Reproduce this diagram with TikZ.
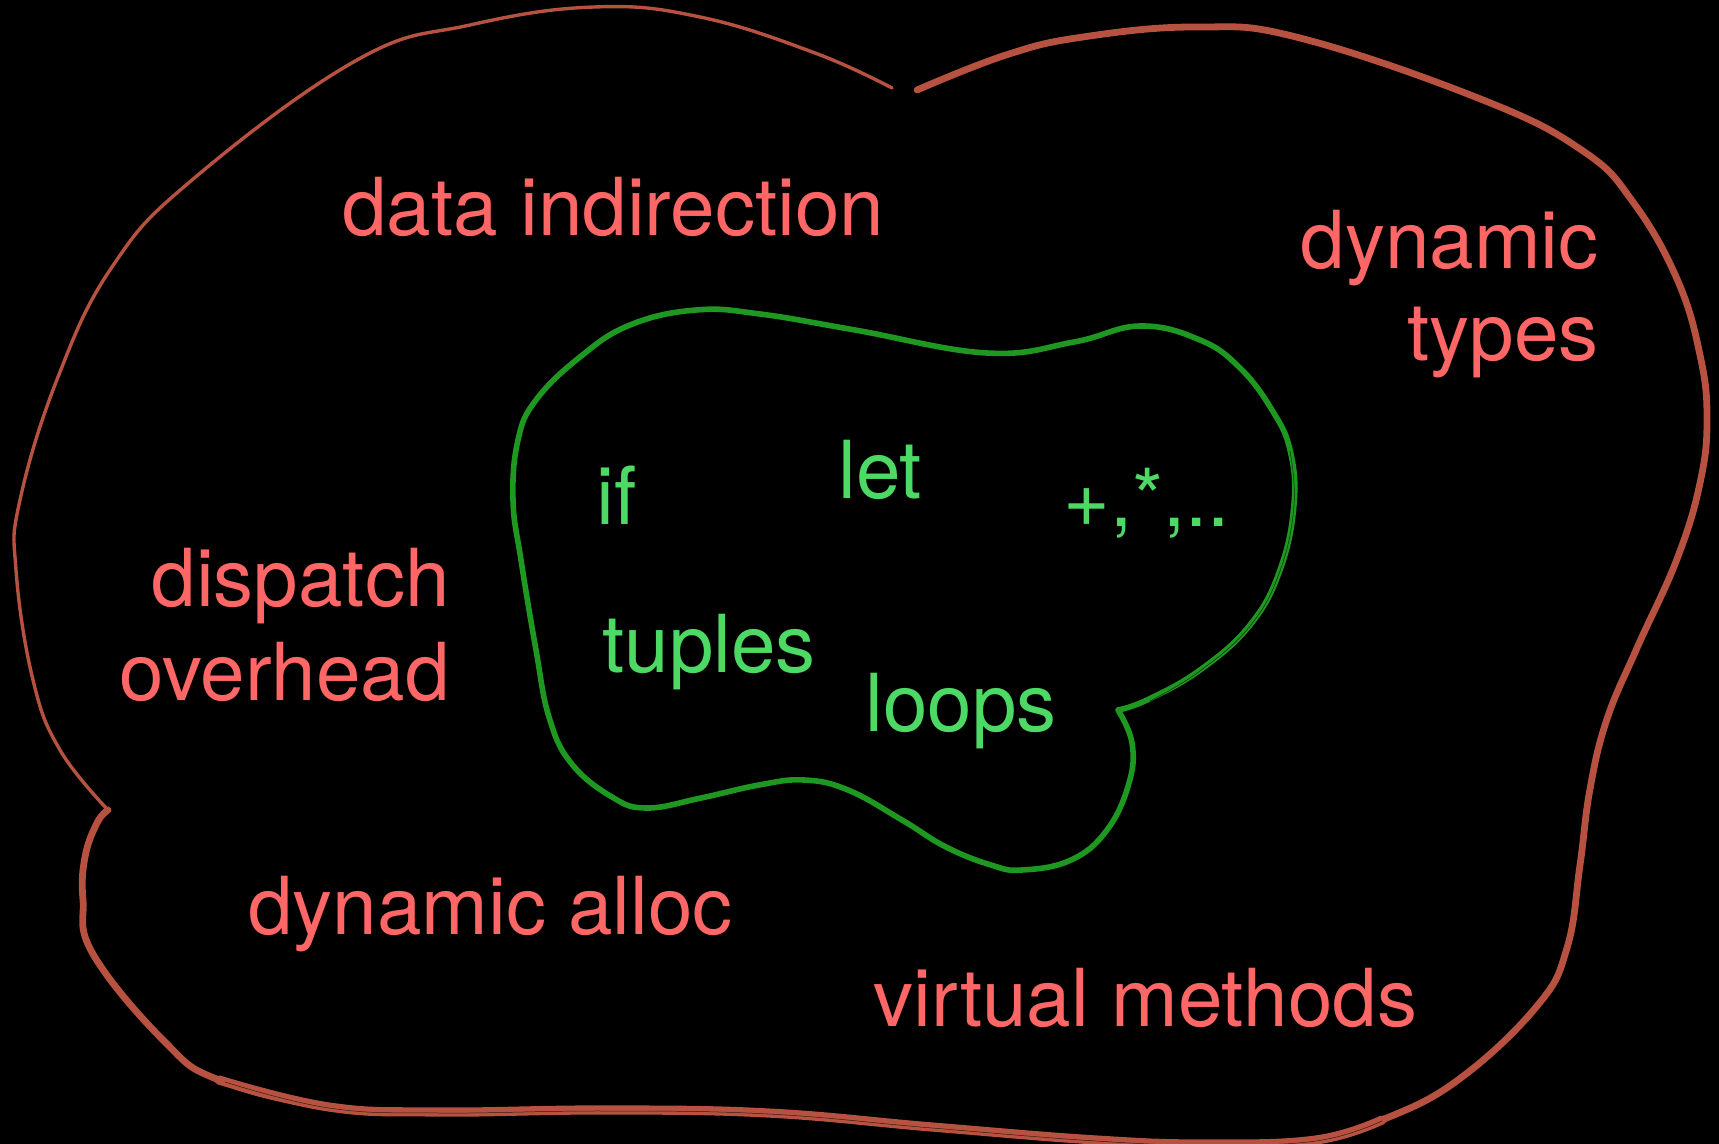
\documentclass[tikz,border=0pt]{standalone}
\usepackage{fontspec}
\setmainfont{TeX Gyre Heros}
\usepackage{tikz}
\definecolor{penred}{RGB}{183,82,64}
\definecolor{wordred}{RGB}{255,102,102}
\definecolor{pengreen}{RGB}{30,152,32}
\definecolor{wordgreen}{RGB}{76,217,100}

\begin{document}
\begin{tikzpicture}[x=0.5pt,y=-0.5pt,
  outerword/.style={text=wordred,inner sep=0pt,font=\fontsize{40}{48}\selectfont},
  innerword/.style={text=wordgreen,inner sep=0pt,font=\fontsize{40}{48}\selectfont},
  redpen/.style={draw=penred,line cap=round,line join=round},
  greenpen/.style={draw=pengreen,line cap=round,line join=round},
  streak/.style={draw=black,line width=0.25pt,opacity=0.7}]
\fill[black] (0,0) rectangle (1719,1144);
\useasboundingbox (0,0) rectangle (1719,1144);

\draw[redpen,line width=1.7pt] plot[smooth,tension=0.7] coordinates {
  (892,88) (815,53) (700,17) (594,7) (470,25) (357,60) (192,180) (112,267)
  (58,377) (20,500) (16,570) (33,680) (60,750) (108,810)};
\draw[redpen,line width=3.4pt] plot[smooth,tension=0.7] coordinates {
  (108,810) (97,823) (85,857) (83,900) (93,954) (164,1041) (219,1080)
  (329,1107) (439,1112) (603,1110) (768,1113) (932,1127) (1096,1140)
  (1206,1144) (1316,1140) (1382,1120) (1458,1080) (1537,1006) (1567,948)
  (1580,865) (1590,789) (1607,719) (1637,648) (1677,559) (1700,483)
  (1707,419) (1700,355) (1677,279) (1633,202) (1583,151) (1483,100)
  (1300,38) (1197,27) (1083,37) (1006,55) (917,90)};
\draw[redpen,line width=4.6pt] plot[smooth,tension=0.7] coordinates {
  (219,1080) (329,1107) (439,1112) (603,1110) (768,1113)
  (932,1127) (1096,1140) (1206,1144) (1316,1140) (1382,1120)};
\draw[streak] plot[smooth,tension=0.7] coordinates {
  (225,1082) (329,1108) (439,1113) (603,1111) (768,1114) (932,1128)
  (1096,1141) (1206,1145) (1316,1141) (1382,1121)};

\draw[greenpen,line width=2.8pt] plot[smooth,tension=0.7] coordinates {
  (1118,710) (1147,700) (1200,670) (1250,625) (1280,570) (1294,504)
  (1290,450) (1272,410) (1240,368) (1200,340) (1140,326) (1074,342)
  (987,353) (855,330) (760,314) (696,310) (630,325) (580,357) (536,400)
  (518,440) (513,500) (521,560) (536,650) (549,717) (571,763) (612,797)
  (647,808) (701,798) (759,785) (804,780) (848,790) (902,820) (946,847)
  (991,865) (1022,870) (1071,860) (1107,830) (1129,783) (1132,743)
  (1118,710)};
\draw[streak] plot[smooth,tension=0.7] coordinates {
  (1150,701) (1200,671) (1250,626) (1280,571) (1294,505) (1290,451)};

\node[outerword,anchor=base west] (indirection) at (342,236) {data indirection};
\node[outerword,anchor=base east] (dyn) at (1599,269) {dynamic};
\node[outerword,anchor=base east] (types) at (1599,361) {types};
\node[outerword,anchor=base east] (dispatch) at (450,606) {dispatch};
\node[outerword,anchor=base east] (overhead) at (450,700) {overhead};
\node[outerword,anchor=base west] (alloc) at (248,934) {dynamic alloc};
\node[outerword,anchor=base west] (virtual) at (873,1026) {virtual methods};

\node[innerword,anchor=base west] (ifword) at (596,524) {if};
\node[innerword,anchor=base west] (letword) at (838,499) {let};
\node[innerword,anchor=base west] (ops) at (1063,526) {+,*,..};
\node[innerword,anchor=base west] (tuples) at (602,672) {tuples};
\node[innerword,anchor=base west] (loops) at (865,731) {loops};
\end{tikzpicture}
\end{document}
